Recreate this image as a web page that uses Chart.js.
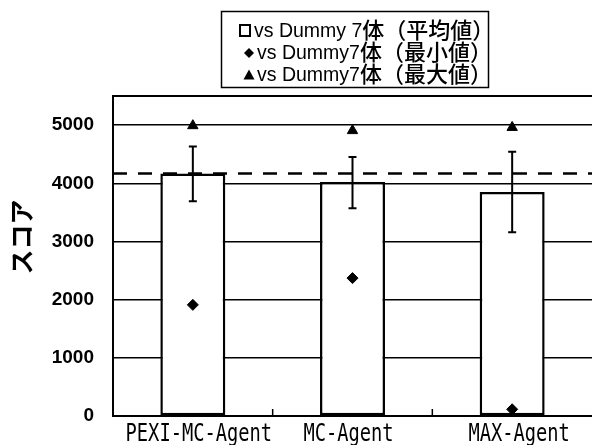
<!DOCTYPE html>
<html>
<head>
<meta charset="utf-8">
<script src="https://cdn.jsdelivr.net/npm/chart.js@4.4.1/dist/chart.umd.min.js"></script>
<style>
  html, body { margin: 0; padding: 0; background: #fff; overflow: hidden; }
  #wrap { width: 592px; height: 445px; }
  canvas { display: block; }
</style>
</head>
<body>
<div id="wrap"><canvas id="score-chart" width="592" height="445"></canvas></div>
<script>
// Agents on the x axis
const agents = ['PEXI-MC-Agent', 'MC-Agent', 'MAX-Agent'];

// Scores against 7 dummy players
const meanScores = [4170, 4020, 3850];
const errUpper = [4630, 4450, 4540];
const errLower = [3690, 3570, 3160];
const minScores = [1910, 2370, 115];
const maxScores = [4990, 4905, 4960];

// Dashed reference level
const referenceScore = 4170;

// Y axis ticks
const yTicks = [0, 1000, 2000, 3000, 4000, 5000];
const yTitle = 'スコア';

const seriesLabels = ['vs Dummy 7体（平均値）', 'vs Dummy7体（最小値）', 'vs Dummy7体（最大値）'];

const LATIN_FONT = '"Liberation Sans", Arial, sans-serif';
const CJK_FONT = '"Noto Sans CJK JP", sans-serif';

// Draws frame, dashed line, error bars, category ticks, labels and the boxed legend
const decorations = {
    id: 'decorations',
    beforeDatasetsDraw(chart) {
        const { ctx, chartArea: a, scales: { y } } = chart;
        ctx.save();
        ctx.strokeStyle = '#000';
        ctx.lineWidth = 2;
        ctx.beginPath();
        ctx.moveTo(a.left, a.top);
        ctx.lineTo(a.right, a.top);
        ctx.stroke();

        const ry = y.getPixelForValue(referenceScore);
        ctx.setLineDash([14, 11]);
        ctx.lineWidth = 2.5;
        ctx.beginPath();
        ctx.moveTo(a.left, ry);
        ctx.lineTo(a.right, ry);
        ctx.stroke();
        ctx.restore();
    },
    afterDatasetsDraw(chart) {
        const { ctx, chartArea: a, scales: { x, y } } = chart;
        ctx.save();
        ctx.strokeStyle = '#000';
        ctx.fillStyle = '#000';

        // error bars on the mean bars
        const bars = chart.getDatasetMeta(0).data;
        ctx.lineWidth = 2;
        bars.forEach((bar, i) => {
            const t = y.getPixelForValue(errUpper[i]);
            const b = y.getPixelForValue(errLower[i]);
            ctx.beginPath();
            ctx.moveTo(bar.x, t);
            ctx.lineTo(bar.x, b);
            ctx.moveTo(bar.x - 4, t);
            ctx.lineTo(bar.x + 4, t);
            ctx.moveTo(bar.x - 4, b);
            ctx.lineTo(bar.x + 4, b);
            ctx.stroke();
        });

        // small ticks between categories
        ctx.lineWidth = 1.5;
        for (let i = 1; i < agents.length; i++) {
            const bx = (x.getPixelForValue(i - 1) + x.getPixelForValue(i)) / 2;
            ctx.beginPath();
            ctx.moveTo(bx, a.bottom - 7);
            ctx.lineTo(bx, a.bottom);
            ctx.stroke();
        }

        // category labels, narrow monospace
        ctx.font = '24px "DejaVu Sans Mono", monospace';
        ctx.textAlign = 'center';
        ctx.textBaseline = 'alphabetic';
        const labelShift = [6, -4, 7];
        agents.forEach((lab, i) => {
            ctx.save();
            ctx.translate(x.getPixelForValue(i) + labelShift[i], a.bottom + 25);
            ctx.scale(0.78, 1);
            ctx.fillText(lab, 0, 0);
            ctx.restore();
        });

        // y axis title
        ctx.save();
        ctx.translate(21, 237);
        ctx.rotate(-Math.PI / 2);
        ctx.font = 'bold 25px ' + CJK_FONT;
        ctx.textAlign = 'center';
        ctx.textBaseline = 'middle';
        ctx.fillText(yTitle, 0, 0);
        ctx.restore();

        // legend box
        ctx.lineWidth = 1.5;
        ctx.strokeRect(221.5, 11.5, 267, 76);
        const rows = [
            { base: 37, mark: 'square', textX: 254 },
            { base: 59, mark: 'diamond', textX: 257 },
            { base: 81, mark: 'triangle', textX: 257 }
        ];
        ctx.textAlign = 'left';
        ctx.textBaseline = 'alphabetic';
        chart.data.datasets.forEach((ds, i) => {
            const r = rows[i];
            const cy = r.base - 6;
            ctx.beginPath();
            if (r.mark === 'square') {
                ctx.lineWidth = 2;
                ctx.strokeRect(240, cy - 6, 10, 11);
            } else if (r.mark === 'diamond') {
                ctx.moveTo(249, cy - 5);
                ctx.lineTo(254, cy);
                ctx.lineTo(249, cy + 5);
                ctx.lineTo(244, cy);
                ctx.closePath();
                ctx.fill();
            } else {
                ctx.moveTo(249, cy - 5.5);
                ctx.lineTo(254.5, cy + 4.5);
                ctx.lineTo(243.5, cy + 4.5);
                ctx.closePath();
                ctx.fill();
            }
            const m = ds.label.match(/^([\x00-\x7F]*)(.*)$/);
            ctx.font = '500 19.5px ' + LATIN_FONT;
            ctx.fillText(m[1], r.textX, r.base);
            const w = ctx.measureText(m[1]).width;
            ctx.font = '500 22px ' + CJK_FONT;
            ctx.fillText(m[2], r.textX + w, r.base + 1);
        });
        ctx.restore();
    }
};

const ctx = document.getElementById('score-chart').getContext('2d');

new Chart(ctx, {
    data: {
        labels: agents,
        datasets: [
            {
                type: 'bar',
                label: seriesLabels[0],
                data: meanScores,
                backgroundColor: '#fff',
                borderColor: '#000',
                borderWidth: 2.5,
                borderSkipped: false,
                barPercentage: 0.407,
                categoryPercentage: 1,
                order: 3
            },
            {
                type: 'line',
                label: seriesLabels[1],
                data: minScores,
                showLine: false,
                pointStyle: 'rectRot',
                pointRadius: 5.5,
                pointBackgroundColor: '#000',
                pointBorderColor: '#000',
                pointBorderWidth: 1,
                order: 2
            },
            {
                type: 'line',
                label: seriesLabels[2],
                data: maxScores,
                showLine: false,
                pointStyle: 'triangle',
                pointRadius: 6,
                pointBackgroundColor: '#000',
                pointBorderColor: '#000',
                pointBorderWidth: 1,
                order: 1
            }
        ]
    },
    options: {
        responsive: false,
        animation: false,
        layout: { autoPadding: false, padding: { top: 96, right: 0, bottom: 0, left: 0 } },
        plugins: {
            legend: { display: false },
            tooltip: { enabled: false }
        },
        scales: {
            x: {
                grid: { display: false },
                border: { display: true, color: '#000', width: 2 },
                ticks: { display: false },
                afterFit(scale) {
                    scale.height = 29;
                    scale.paddingLeft = 0;
                    scale.paddingRight = 0;
                }
            },
            y: {
                min: 0,
                max: 5500,
                afterBuildTicks(scale) { scale.ticks = yTicks.map(v => ({ value: v })); },
                ticks: {
                    color: '#000',
                    padding: 19,
                    font: { family: LATIN_FONT, size: 19, weight: 'bold' },
                    callback: (v) => String(v)
                },
                grid: { color: '#000', lineWidth: 1.5, drawTicks: false },
                border: { display: true, color: '#000', width: 2 },
                afterFit(scale) {
                    scale.width = 113;
                    scale.paddingTop = 0;
                    scale.paddingBottom = 0;
                }
            }
        }
    },
    plugins: [decorations]
});
</script>
</body>
</html>
